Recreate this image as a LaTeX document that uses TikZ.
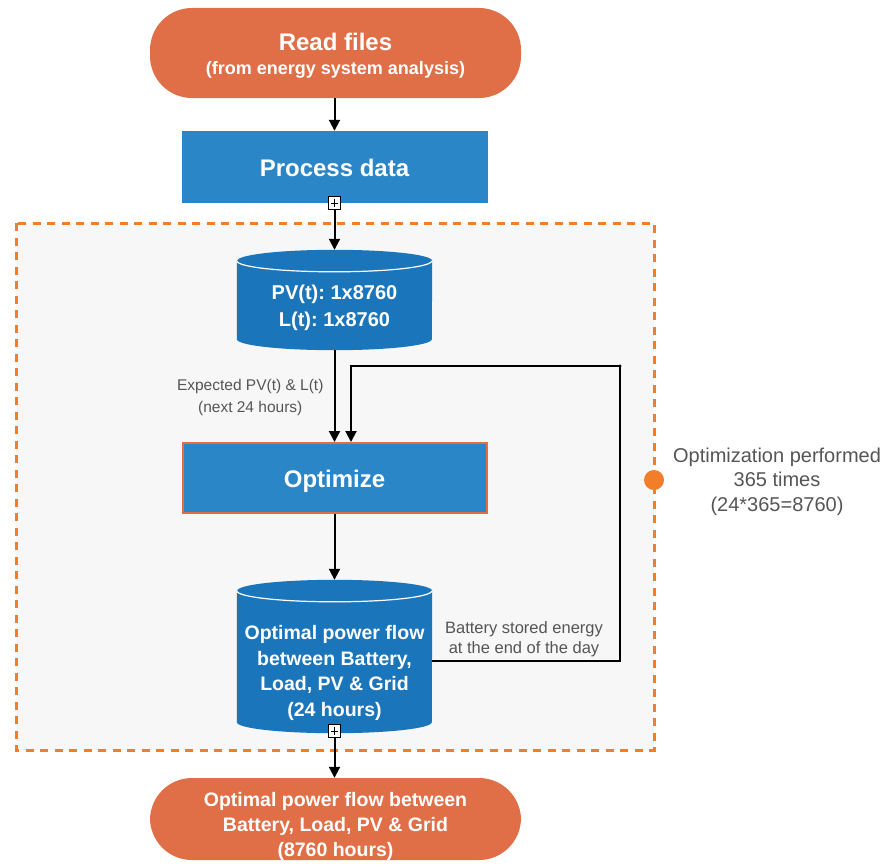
\documentclass[tikz,border=0pt]{standalone}
\usepackage{fontspec}
\setmainfont{Liberation Sans}
\usetikzlibrary{arrows.meta}
\frenchspacing

\definecolor{pillorange}{HTML}{E06F47}
\definecolor{loopdash}{HTML}{F27E2A}
\definecolor{boxblue}{HTML}{2A86C6}
\definecolor{cylblue}{HTML}{1B75BB}
\definecolor{labelgray}{HTML}{555555}
\definecolor{panelgray}{HTML}{F7F7F7}

% database cylinder drawn around an (invisible) named node
\newcommand{\dbcylinder}[1]{%
  \fill[cylblue] ([yshift=-11pt]#1.north west) -- ([yshift=11pt]#1.south west)
    arc[start angle=180,end angle=360,x radius=97.5pt,y radius=11pt]
    -- ([yshift=-11pt]#1.north east)
    arc[start angle=0,end angle=180,x radius=97.5pt,y radius=11pt] -- cycle;
  \draw[white,line width=1.2pt] ([yshift=-11pt]#1.north west)
    arc[start angle=180,end angle=360,x radius=97.5pt,y radius=11pt];
}
% lower a label inside its box without changing the box
\newcommand{\lowered}[2]{\raisebox{-#1}[\height][\depth]{#2}}

\tikzset{
  pill/.style={fill=pillorange, rounded corners=42pt, minimum width=371pt},
  pilltext/.style={text=white, align=center},
  bluebox/.style={fill=boxblue, minimum width=306pt, minimum height=72pt,
    text=white, font=\bfseries\fontsize{24}{29}\selectfont},
  cylframe/.style={minimum width=195pt, inner sep=0pt},
  cyltext/.style={text=white, align=center, font=\bfseries\fontsize{19.5}{25.5}\selectfont},
  conn/.style={line width=2pt, -{Triangle[length=11pt,width=11pt]}},
  plusbox/.style={draw=black, fill=white, line width=0.9pt, minimum size=12.5pt,
    inner sep=0pt,
    path picture={
      \draw[line width=0.8pt] ([yshift=-2.5pt]path picture bounding box.north)
        -- ([yshift=2.5pt]path picture bounding box.south);
      \draw[line width=0.8pt] ([xshift=2.5pt]path picture bounding box.west)
        -- ([xshift=-2.5pt]path picture bounding box.east);}},
  note/.style={text=labelgray, align=center},
}

\begin{document}
\begin{tikzpicture}[x=1pt,y=1pt]
\useasboundingbox (0,0) rectangle (890,-867);

% loop panel
\draw[fill=panelgray, draw=loopdash, line width=3pt, dash pattern=on 8pt off 6.5pt]
  (16,-223) rectangle (654,-750);

% start / end terminals
\node[pill, minimum height=90pt] (read) at (335.5,-53) {};
\node[pilltext, font=\bfseries\fontsize{24}{24}\selectfont] (readtext) at (335.5,-56)
  {Read files\\ {\fontsize{18}{24}\selectfont (from energy system analysis)}};
\node[pill, minimum height=82pt] (result) at (335.5,-819) {};
\node[pilltext, font=\bfseries\fontsize{19.5}{25}\selectfont] (resulttext) at (335.5,-826)
  {Optimal power flow between\\ Battery, Load, PV \& Grid\\ (8760 hours)};

% process steps
\node[bluebox] (process) at (334.5,-167) {\lowered{1pt}{Process data}};
\node[bluebox, draw=pillorange, line width=2pt, minimum width=304pt, minimum height=70pt]
  (opt) at (334.5,-478) {\lowered{3pt}{Optimize}};

% data stores
\node[cylframe, minimum height=100pt] (cylA) at (334.5,-300) {};
\dbcylinder{cylA}
\node[cyltext, font=\bfseries\fontsize{20}{27}\selectfont] (cylAtext) at (334.5,-308)
  {PV(t): 1x8760\\ L(t): 1x8760};

\node[cylframe, minimum height=153pt] (cylB) at (334.5,-656.5) {};
\dbcylinder{cylB}
\node[cyltext] (cylBtext) at (334.5,-673)
  {Optimal power flow\\ between Battery,\\ Load, PV \& Grid\\ (24 hours)};

% connectors
\draw[conn] (read.south -| process.north) -- (process.north);
\draw[conn] (process.south) -- (cylA.north);
\draw[conn] (cylA.south) -- (opt.north);
\draw[conn] (opt.south) -- (cylB.north);
\draw[conn] ([yshift=2pt]cylB.south) -- (cylB.south |- result.north);

% daily feedback of the battery state
\coordinate (fbcorner) at (620,-366);
\draw[conn] ([yshift=-4.5pt]cylB.east) -| (fbcorner) -| ([xshift=16.5pt]opt.north);
\fill (fbcorner) circle (1.6pt);

% expand markers
\node[plusbox] (plusA) at (334.5,-203) {};
\node[plusbox] (plusB) at (334.5,-731) {};

% labels
\node[note, anchor=east, font=\fontsize{15.5}{22}\selectfont] (lblin) at (327,-397)
  {Expected PV(t) \& L(t)\\ (next 24 hours)};
\node[note, font=\fontsize{16.5}{20}\selectfont] (lblfb) at (524,-639)
  {Battery stored energy\\ at the end of the day};

\fill[loopdash] (654,-480) circle (10pt);
\node[note, font=\fontsize{20}{24.5}\selectfont] (lblloop) at (777,-481.5)
  {Optimization performed\\ 365 times\\ (24*365=8760)};
\end{tikzpicture}
\end{document}
